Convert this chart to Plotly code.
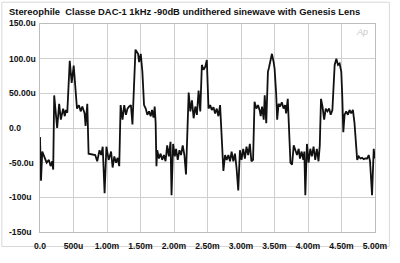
import plotly.graph_objects as go

# time in ms, amplitude in microvolts
t_ms = [
    0.000, 0.015, 0.034, 0.064, 0.099, 0.133, 0.158, 0.182, 0.197,
    0.212, 0.256, 0.286, 0.311, 0.345, 0.370, 0.385, 0.407, 0.444, 0.473, 0.503,
    0.533, 0.552, 0.581, 0.607, 0.632, 0.666, 0.680, 0.706,
    0.725, 0.788, 0.824, 0.854, 0.888, 0.913, 0.936, 0.964, 0.991, 1.025,
    1.061, 1.084, 1.109, 1.135, 1.158, 1.183,
    1.203, 1.232, 1.257, 1.283, 1.306, 1.331, 1.357, 1.380, 1.425, 1.464,
    1.479, 1.504, 1.528, 1.553, 1.578, 1.602, 1.627, 1.652, 1.672, 1.694,
    1.712, 1.726,
    1.738, 1.750, 1.775, 1.800, 1.824, 1.849, 1.874, 1.898, 1.923, 1.948,
    1.963, 1.987, 2.012, 2.031, 2.056, 2.081, 2.105, 2.130, 2.155, 2.179,
    2.219, 2.244, 2.268, 2.293, 2.318, 2.342, 2.367, 2.392, 2.416, 2.441,
    2.466, 2.490, 2.515, 2.540, 2.564, 2.589, 2.614, 2.638, 2.663, 2.688,
    2.737, 2.762, 2.786, 2.811, 2.836, 2.860, 2.885, 2.910, 2.933, 2.959,
    2.984, 3.008, 3.033, 3.058, 3.082, 3.107, 3.132, 3.155, 3.180,
    3.202, 3.229, 3.254, 3.280, 3.294, 3.314, 3.339, 3.354, 3.377, 3.402,
    3.417, 3.436, 3.462, 3.487, 3.501, 3.525, 3.540, 3.561, 3.584, 3.609,
    3.635, 3.658, 3.673, 3.698,
    3.738, 3.762, 3.787, 3.812, 3.836, 3.861, 3.880, 3.905, 3.930, 3.945,
    3.960, 3.984, 4.009, 4.034, 4.058, 4.083, 4.108, 4.132, 4.157, 4.176,
    4.194, 4.216, 4.241, 4.265, 4.290, 4.315, 4.339, 4.364, 4.379, 4.398,
    4.423, 4.448, 4.472, 4.497, 4.512, 4.527, 4.546, 4.571, 4.596, 4.620,
    4.645, 4.670, 4.694,
    4.734, 4.758, 4.783, 4.808, 4.832, 4.856, 4.882, 4.906, 4.926, 4.956,
    4.981, 4.996, 5.000,
]
v_uV = [
    -13, -76, -34, -41, -50, -46, -55, -48, -60,
    47, 0, 35, 12, 28, 17, 26, 22, 97, 65, 90,
    49, 28, 33, 24, 31, 21, 3, 35,
    -37, -38, -39, -48, -32, -39, -27, -94, -27, -46,
    -34, -57, -41, -50, -43, -55,
    33, 12, 33, 19, 28, 31, 33, 5, 113, 107,
    95, 107, 81, 33, 28, 19, 24, 17, 26, 15,
    31, 7,
    -55, -32, -44, -37, -46, -39, -48, -25, -41, -20,
    -97, -23, -41, -30, -46, -32, -39, -25, -39, -67,
    51, 24, 40, 14, 31, 19, 54, 24, 91, 84,
    88, 98, 28, 33, 26, 30, 21, 28, 17, 33,
    -62, -39, -46, -39, -48, -34, -48, -37, -57, -90,
    -32, -46, -30, -44, -27, -39, -23, -48, -46,
    38, 28, 33, 25, 17, 31, 12, 47, 7, 81,
    87, 95, 107, 95, 86, 49, 12, 35, 31, 37,
    28, 33, 21, 42,
    -50, -53, -25, -32, -39, -30, -44, -34, -46, -34,
    -97, -23, -50, -30, -41, -27, -46, -30, -48, -25,
    42, 31, 12, 28, 24, 28, 19, 26, 51, 91,
    100, 91, 93, 81, 44, -6, 19, 24, 19, 26,
    21, 26, 7,
    -46, -41, -44, -43, -45, -44, -44, -39, -48, -97,
    -30, -44, -35,
]

x_ticks = [0, 0.5, 1, 1.5, 2, 2.5, 3, 3.5, 4, 4.5, 5]
x_labels = ["0.0", "500u", "1.00m", "1.50m", "2.00m", "2.50m", "3.00m",
            "3.50m", "4.00m", "4.50m", "5.00m"]
y_ticks = [150, 100, 50, 0, -50, -100, -150]
y_labels = ["150.0u", "100.0u", "50.00u", "0.0", "-50.0u", "-100u", "-150u"]

title = "Stereophile  Classe DAC-1 1kHz -90dB undithered sinewave with Genesis Lens"

W, H = 400, 263
L, R, T, B = 40, 22, 24, 24
pw, ph = W - L - R, H - T - B


def px(xp):
    return (xp - L) / pw


def py(yp):
    return (H - B - yp) / ph


FAM = "Liberation Sans, Arial, sans-serif"
font_main = dict(family=FAM, size=8.6, color="#111", weight="bold")

fig = go.Figure()
fig.add_trace(go.Scatter(x=t_ms, y=v_uV, mode="lines",
                         line=dict(color="#111111", width=1.8), hoverinfo="skip"))

annotations = [
    dict(text=title, x=px(7), y=py(11.5), xref="paper", yref="paper",
         xanchor="left", yanchor="middle", showarrow=False,
         font=dict(family=FAM, size=9.4, color="#111", weight="bold")),
    dict(text="Ap", x=px(373), y=py(32), xref="paper", yref="paper",
         xanchor="right", yanchor="middle", showarrow=False,
         font=dict(family=FAM, size=9, color="#c8c8c8", style="italic")),
]
for yv, lab in zip(y_ticks, y_labels):
    annotations.append(dict(text=lab, x=px(7), y=yv, xref="paper", yref="y",
                            xanchor="left", yanchor="middle", showarrow=False,
                            yshift=1 if yv == 150 else 0, font=font_main))

fig.update_layout(
    width=W, height=H,
    margin=dict(l=L, r=R, t=T, b=B, pad=0),
    paper_bgcolor="white", plot_bgcolor="white",
    showlegend=False,
    annotations=annotations,
    shapes=[dict(type="rect", xref="paper", yref="paper",
                 x0=px(1.5), x1=px(392.5), y0=py(254), y1=py(1.5),
                 line=dict(color="#d8d8d8", width=1), layer="below")],
    xaxis=dict(range=[0, 5], tickvals=x_ticks, ticktext=x_labels,
               showgrid=True, gridcolor="#cfcfcf", gridwidth=1,
               zeroline=False, showline=True, linecolor="#bdbdbd", linewidth=1,
               mirror=True, ticks="", tickfont=font_main, ticklabelstandoff=6),
    yaxis=dict(range=[-150, 150], tickvals=y_ticks, showticklabels=False,
               showgrid=True, gridcolor="#cfcfcf", gridwidth=1,
               zeroline=False, showline=True, linecolor="#bdbdbd", linewidth=1,
               mirror=True, ticks=""),
)

fig.write_html("out.html")
